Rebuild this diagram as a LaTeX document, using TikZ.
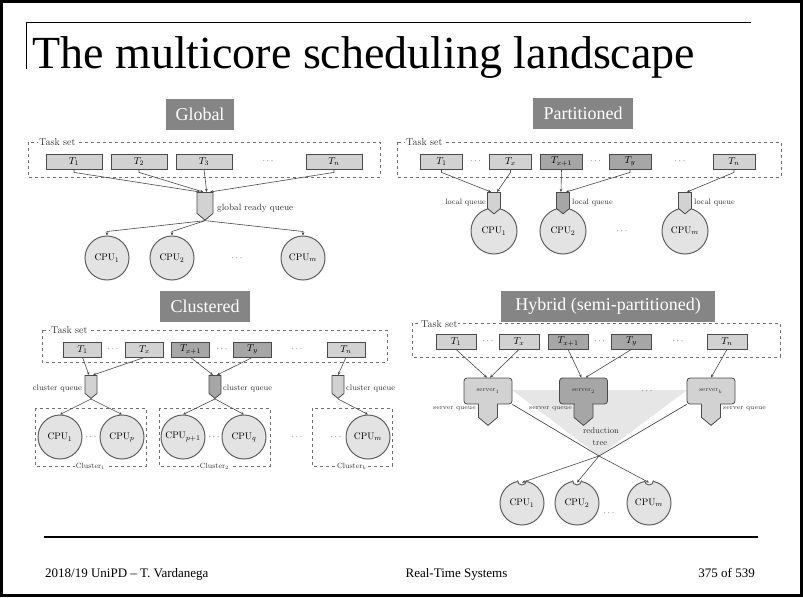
\documentclass[tikz,border=0pt]{standalone}
\usepackage{fontspec}
\newfontfamily\slidefont{Liberation Serif}
\usetikzlibrary{shapes.symbols,arrows.meta,calc}

\definecolor{labelgray}{HTML}{858585}
\definecolor{tasklt}{HTML}{D2D2D2}
\definecolor{taskdk}{HTML}{A6A6A6}
\definecolor{edgegray}{HTML}{4A4A4A}
\definecolor{cpufill}{HTML}{E3E3E3}
\definecolor{cpuedge}{HTML}{606060}
\definecolor{dashgray}{HTML}{707070}
\definecolor{treefill}{HTML}{E6E6E6}
\definecolor{textgray}{HTML}{333333}

\begin{document}
\begin{tikzpicture}[x=1pt,y=1pt,
  panel/.style={fill=labelgray,text=white,font=\slidefont\fontsize{18}{20}\selectfont,
    minimum height=31pt,inner xsep=4pt,inner ysep=0pt},
  task/.style={draw=edgegray,fill=tasklt,line width=0.8pt,minimum height=15pt,
    inner sep=0pt,font=\fontsize{10}{11}\selectfont},
  taskd/.style={task,fill=taskdk},
  cpu/.style={circle,draw=cpuedge,fill=cpufill,line width=1pt,minimum size=44pt,
    inner sep=0pt,font=\fontsize{9.5}{10}\selectfont},
  queue/.style={signal,signal to=south,signal pointer angle=100,draw=edgegray,
    fill=tasklt,line width=0.8pt,inner sep=0pt,anchor=north},
  queued/.style={queue,fill=taskdk},
  server/.style={draw=edgegray,fill=tasklt,line width=0.8pt,rounded corners=3pt,
    minimum width=48pt,minimum height=26pt,inner sep=0pt,
    font=\fontsize{6.5}{7}\selectfont,text=textgray},
  serverd/.style={server,fill=taskdk},
  taskset/.style={draw=dashgray,dashed,line width=0.7pt},
  setlbl/.style={fill=white,inner sep=1pt,font=\fontsize{10}{11}\selectfont,text=textgray},
  note/.style={font=\fontsize{#1}{#1}\selectfont,text=textgray,inner sep=1pt},
  dots/.style={font=\fontsize{9}{10}\selectfont,text=textgray},
  link/.style={draw=edgegray,line width=0.6pt,-{Stealth[length=3.2pt,width=2.8pt]}},
  plain/.style={draw=edgegray,line width=0.7pt},
  footer/.style={font=\slidefont\fontsize{13}{15}\selectfont,inner sep=0pt}
]
\useasboundingbox (0,0) rectangle (803,-597);

% slide frame, title rules and footer rule
\draw[line width=3pt] (1.5,-1.5) rectangle (801.5,-595.5);
\draw[line width=0.8pt] (26,-69) -- (26,-22) -- (751,-22);
\node[anchor=base west,inner sep=0pt,font=\slidefont\fontsize{46}{52}\selectfont]
  (title) at (32,-68) {The multicore scheduling landscape};
\draw[line width=2pt] (44,-537) -- (758,-537);
\node[footer,anchor=base west] (fl) at (45,-577) {2018/19 UniPD – T. Vardanega};
\node[footer,anchor=base] (fc) at (456.5,-577) {Real-Time Systems};
\node[footer,anchor=base east] (fr) at (755,-577) {375 of 539};

% ---------------- Global ----------------
\node[panel,minimum width=68pt] (pg) at (200,-114.5) {Global};
\draw[taskset] (28,-142) rectangle (380,-177);
\node[setlbl,anchor=west] (gts) at (38,-142) {Task set};
\node[task,minimum width=56pt] (g1) at (74,-161.5) {$T_1$};
\node[task,minimum width=56pt] (g2) at (139,-161.5) {$T_2$};
\node[task,minimum width=56pt] (g3) at (204,-161.5) {$T_3$};
\node[dots] (gd) at (268,-161.5) {$\cdots$};
\node[task,minimum width=56pt] (gn) at (334,-161.5) {$T_n$};
\node[queue,minimum width=16pt,minimum height=21pt] (gq) at (205,-192) {};
\node[note=9,anchor=west] (gql) at (216,-208) {global ready queue};
\node[cpu] (gc1) at (107,-258) {CPU$_1$};
\node[cpu] (gc2) at (172,-258) {CPU$_2$};
\node[dots] (gcd) at (237,-258) {$\cdots$};
\node[cpu] (gcm) at (303,-258) {CPU$_m$};
\draw[link] (g1.south) -- ++(0,-3) -- ([xshift=-5pt]gq.north);
\draw[link] (g2.south) -- ++(0,-3) -- ([xshift=-1.7pt]gq.north);
\draw[link] (g3.south) -- ([xshift=1.7pt]gq.north);
\draw[link] (gn.south) -- ++(0,-3) -- ([xshift=5pt]gq.north);
\foreach \c in {gc1,gc2,gcm}
  \draw[link] (gq.south) -- ([yshift=4pt]\c.north) -- (\c.north);

% ---------------- Partitioned ----------------
\node[panel,minimum width=100pt] (pp) at (583,-113.5) {Partitioned};
\draw[taskset] (397,-142) rectangle (781,-177);
\node[setlbl,anchor=west] (pts) at (405,-142) {Task set};
\node[task,minimum width=42pt] (p1) at (441.5,-161.5) {$T_1$};
\node[dots] (pd1) at (475.5,-161.5) {$\cdots$};
\node[task,minimum width=42pt] (px) at (510.5,-161.5) {$T_x$};
\node[taskd,minimum width=42pt] (px1) at (561.5,-161.5) {$T_{x+1}$};
\node[dots] (pd2) at (595.5,-161.5) {$\cdots$};
\node[taskd,minimum width=42pt] (py) at (630,-161.5) {$T_y$};
\node[dots] (pd3) at (680,-161.5) {$\cdots$};
\node[task,minimum width=42pt] (pn) at (734,-161.5) {$T_n$};
\node[cpu,minimum size=46pt] (pc1) at (494,-231) {CPU$_1$};
\node[cpu,minimum size=46pt] (pc2) at (563,-231) {CPU$_2$};
\node[dots] (pcd) at (622,-231) {$\cdots$};
\node[cpu,minimum size=46pt] (pcm) at (685,-231) {CPU$_m$};
\node[queue,minimum width=13pt,minimum height=16pt] (pq1) at (494,-192) {};
\node[queued,minimum width=13pt,minimum height=16pt] (pq2) at (563,-192) {};
\node[queue,minimum width=13pt,minimum height=16pt] (pqm) at (685,-192) {};
\node[note=7.8,anchor=east] (pl1) at (487,-203) {local queue};
\node[note=7.8,anchor=west] (pl2) at (571,-203) {local queue};
\node[note=7.8,anchor=west] (plm) at (693,-203) {local queue};
\draw[link] (p1.south) -- ++(0,-3) -- ([xshift=-3pt]pq1.north);
\draw[link] (px.south) -- ++(0,-3) -- ([xshift=3pt]pq1.north);
\draw[link] (px1.south) -- ([xshift=-2pt]pq2.north);
\draw[link] (py.south) -- ++(0,-3) -- ([xshift=3pt]pq2.north);
\draw[link] (pn.south) -- ++(0,-3) -- ([xshift=2pt]pqm.north);

% ---------------- Clustered ----------------
\node[panel,minimum width=90pt] (pcl) at (205,-306.5) {Clustered};
\draw[taskset] (42,-330) rectangle (387,-362);
\node[setlbl,anchor=west] (cts) at (50,-330) {Task set};
\node[task,minimum width=38pt] (c1) at (82.5,-349.5) {$T_1$};
\node[dots] (cd1) at (113,-349.5) {$\cdots$};
\node[task,minimum width=38pt] (cx) at (144.5,-349.5) {$T_x$};
\node[taskd,minimum width=38pt] (cx1) at (190.5,-349.5) {$T_{x+1}$};
\node[dots] (cd2) at (222,-349.5) {$\cdots$};
\node[taskd,minimum width=38pt] (cy) at (252.5,-349.5) {$T_y$};
\node[dots] (cd3) at (297,-349.5) {$\cdots$};
\node[task,minimum width=38pt] (cn) at (346,-349.5) {$T_n$};
\node[queue,minimum width=12pt,minimum height=18pt] (cq1) at (91,-375) {};
\node[queued,minimum width=12pt,minimum height=18pt] (cq2) at (215,-375) {};
\node[queue,minimum width=12pt,minimum height=18pt] (cq3) at (338,-375) {};
\node[note=8,anchor=east] (cl1) at (83,-388) {cluster queue};
\node[note=8,anchor=west] (cl2) at (222,-388) {cluster queue};
\node[note=8,anchor=west] (cl3) at (345,-388) {cluster queue};
\draw[taskset] (35,-408) rectangle (146,-466);
\draw[taskset] (159,-408) rectangle (270,-466);
\draw[taskset] (312,-408) rectangle (392,-466);
\node[setlbl,font=\fontsize{7.5}{8}\selectfont] (k1) at (90.5,-466) {Cluster$_1$};
\node[setlbl,font=\fontsize{7.5}{8}\selectfont] (k2) at (214.5,-466) {Cluster$_2$};
\node[setlbl,font=\fontsize{7.5}{8}\selectfont] (k3) at (352,-466) {Cluster$_k$};
\node[cpu] (cc1) at (60,-437) {CPU$_1$};
\node[dots] (ccd1) at (91,-437) {$\cdots$};
\node[cpu] (ccp) at (122,-437) {CPU$_p$};
\node[cpu] (ccp1) at (183,-437) {CPU$_{p+1}$};
\node[dots] (ccd2) at (214,-437) {$\cdots$};
\node[cpu] (ccq) at (244,-437) {CPU$_q$};
\node[dots] (ccd3) at (297,-437) {$\cdots$};
\node[dots] (ccd4) at (336,-437) {$\cdots$};
\node[cpu] (ccm) at (368,-437) {CPU$_m$};
\draw[link] (c1.south) -- ([xshift=-2pt]cq1.north);
\draw[link] (cx.south) -- ([xshift=2pt]cq1.north);
\draw[link] (cx1.south) -- ([xshift=-2pt]cq2.north);
\draw[link] (cy.south) -- ([xshift=2pt]cq2.north);
\draw[link] (cn.south) -- (cq3.north);
\draw[link] (cq1.south) -- (cc1.north);
\draw[link] (cq1.south) -- (ccp.north);
\draw[link] (cq2.south) -- (ccp1.north);
\draw[link] (cq2.south) -- (ccq.north);
\draw[link] (cq3.south) -- (ccm.north);

% ---------------- Hybrid ----------------
\node[panel,minimum width=214pt] (ph) at (608,-306.5) {Hybrid (semi-partitioned)};
\draw[taskset] (412,-323) rectangle (780,-357);
\node[setlbl,anchor=west] (hts) at (420,-324) {Task set};
\node[task,minimum width=40pt] (h1) at (456,-341.5) {$T_1$};
\node[dots] (hd1) at (488,-341.5) {$\cdots$};
\node[task,minimum width=40pt] (hx) at (519,-341.5) {$T_x$};
\node[taskd,minimum width=40pt] (hx1) at (568,-341.5) {$T_{x+1}$};
\node[dots] (hd2) at (599.5,-341.5) {$\cdots$};
\node[taskd,minimum width=40pt] (hy) at (631.5,-341.5) {$T_y$};
\node[dots] (hd3) at (678,-341.5) {$\cdots$};
\node[task,minimum width=40pt] (hn) at (727,-341.5) {$T_n$};
% reduction tree area
\coordinate (rt) at (599,-456);
\fill[treefill] (512,-390) -- (687,-390) -- (rt) -- cycle;
% servers with their queues
\node[queue,minimum width=19pt,minimum height=16pt] (hq1) at (488,-401) {};
\node[queued,minimum width=19pt,minimum height=16pt] (hq2) at (583.5,-401) {};
\node[queue,minimum width=19pt,minimum height=16pt] (hqk) at (711,-401) {};
\node[server] (hs1) at (488,-391) {server$_1$};
\node[serverd] (hs2) at (583.5,-391) {server$_2$};
\node[dots] (hsd) at (647,-391) {$\cdots$};
\node[server] (hsk) at (711,-391) {server$_k$};
\fill[tasklt] ($(hs1.south)+(-8.9,1.5)$) rectangle ($(hs1.south)+(8.9,-1.5)$);
\fill[taskdk] ($(hs2.south)+(-8.9,1.5)$) rectangle ($(hs2.south)+(8.9,-1.5)$);
\fill[tasklt] ($(hsk.south)+(-8.9,1.5)$) rectangle ($(hsk.south)+(8.9,-1.5)$);
\node[note=6.4,anchor=east] (hl1) at (477,-409) {server queue};
\node[note=6.4,anchor=east] (hl2) at (573,-409) {server queue};
\node[note=6.4,anchor=west] (hlk) at (722,-409) {server queue};
\draw[plain] (hs1.south east) -- (rt);
\draw[plain] (hsk.south west) -- (rt);
\node[note=8.5] (rd1) at (601,-431) {reduction};
\node[note=8.5] (rd2) at (600,-443) {tree};
\draw[link] (h1.south) -- ([xshift=-1pt]hs1.north);
\draw[link] (hx.south) -- ([xshift=2pt]hs1.north);
\draw[link] (hx1.south) -- ([xshift=-2pt]hs2.north);
\draw[link] (hy.south) -- ([xshift=2pt]hs2.north);
\draw[link] (hn.south) -- (hsk.north);
% processors with an entry notch on top
\node[cpu] (hc1) at (522,-503) {CPU$_1$};
\node[cpu] (hc2) at (577,-503) {CPU$_2$};
\node[dots] (hcd) at (609,-513) {$\cdots$};
\node[cpu] (hcm) at (649,-503) {CPU$_m$};
\foreach \c in {hc1,hc2,hcm} {
  \fill[white] (\c.north) circle (4.5pt);
  \draw[cpuedge,line width=1pt] ([xshift=-4.5pt]\c.north)
    arc[start angle=180,end angle=360,radius=4.5pt];
  \draw[link] (rt) -- ([yshift=-2pt]\c.north);
}
\end{tikzpicture}
\end{document}
